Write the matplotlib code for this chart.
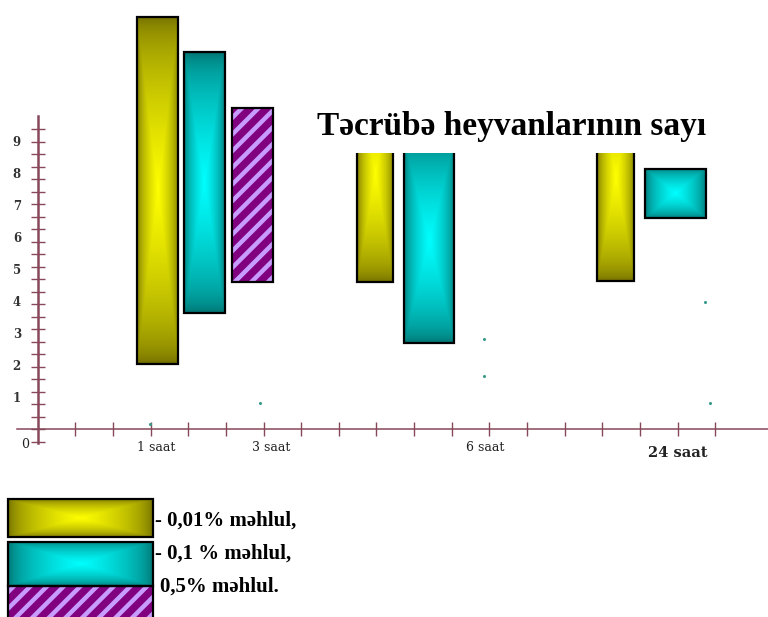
import numpy as np
import matplotlib.pyplot as plt
from matplotlib.patches import Rectangle
from matplotlib.colors import to_rgb

plt.rcParams['hatch.linewidth'] = 3.2

time_labels = ['1 saat', '3 saat', '6 saat', '24 saat']
legend_labels = ['- 0,01% məhlul,', '- 0,1 % məhlul,', '0,5% məhlul.']
title = 'Təcrübə heyvanlarının sayı'

# range of animal counts for each solution (1, 6, 24 saat for the first two, 3 saat for 0,5%)
low_001 = [2.05, 4.6, 4.65]
high_001 = [12.9, 11.3, 11.1]
low_01 = [3.65, 2.7, 6.6]
high_01 = [11.8, 9.1, 8.15]
low_05 = [4.6]
high_05 = [10.05]

# single observations
dot_x = [2.98, 5.9, 11.85, 11.85, 17.72, 17.86]
dot_y = [0.17, 0.83, 2.83, 1.67, 3.98, 0.83]

# bar placement along the time axis
left_001, width_001 = [2.64, 8.48, 14.85], [1.09, 0.96, 0.99]
left_01, width_01 = [3.89, 9.73, 16.13], [1.08, 1.33, 1.62]
left_05, width_05 = [5.16], [1.09]
label_x = [3.15, 6.2, 11.9, 17.0]

YELLOW = ('#6e6a00', '#ffff00')
TEAL = ('#006e6c', '#00ffff')
axis_col = '#86485a'


def box_gradient(ax, x0, y0, w, h, colors, transform=None, border=True, z=2):
    u = np.linspace(-1, 1, 200)
    uu, vv = np.meshgrid(u, u)
    t = (1 - np.maximum(abs(uu), abs(vv))) ** 0.55
    e, c = np.array(to_rgb(colors[0])), np.array(to_rgb(colors[1]))
    img = e + (c - e) * t[..., None]
    tr = transform if transform is not None else ax.transData
    ax.imshow(img, extent=(x0, x0 + w, y0, y0 + h), origin='lower', aspect='auto',
              interpolation='bilinear', zorder=z, transform=tr)
    if border:
        ax.add_patch(Rectangle((x0, y0), w, h, fill=False, ec='black', lw=1.6,
                               zorder=z + 0.1, transform=tr))


def hatched_box(ax, x0, y0, w, h, transform=None, z=2):
    tr = transform if transform is not None else ax.transData
    ax.add_patch(Rectangle((x0, y0), w, h, fc='#800080', ec='#c89bff', lw=0,
                           hatch='//', zorder=z, transform=tr))
    ax.add_patch(Rectangle((x0, y0), w, h, fill=False, ec='black', lw=1.6,
                           zorder=z + 0.1, transform=tr))


fig = plt.figure(figsize=(7.68, 6.17), dpi=100)
ax = fig.add_axes([0, 0, 1, 1])

for lo, hi, x, w in zip(low_001, high_001, left_001, width_001):
    box_gradient(ax, x, lo, w, hi - lo, YELLOW)
for lo, hi, x, w in zip(low_01, high_01, left_01, width_01):
    box_gradient(ax, x, lo, w, hi - lo, TEAL)
for lo, hi, x, w in zip(low_05, high_05, left_05, width_05):
    hatched_box(ax, x, lo, w, hi - lo)

ax.scatter(dot_x, dot_y, s=5, color='#3d9b8c', zorder=3, linewidths=0)

# axes drawn through the origin
for s in ['top', 'right']:
    ax.spines[s].set_visible(False)
ax.spines['left'].set_position(('data', 0))
ax.spines['bottom'].set_position(('data', 0))
ax.spines['left'].set_bounds(-0.42, 9.8)
ax.spines['bottom'].set_bounds(-0.55, 19.4)
ax.spines['left'].set_color(axis_col)
ax.spines['bottom'].set_color(axis_col)
ax.spines['left'].set_linewidth(1.8)
ax.spines['bottom'].set_linewidth(1.1)

ax.set_xticks(range(1, 19), minor=True)
ax.set_xticks([])
ax.set_yticks(np.arange(-0.39, 9.7, 0.391), minor=True)
ax.set_yticks(range(1, 10))
ax.set_yticklabels([str(k) for k in range(1, 10)], family='DejaVu Serif',
                   fontsize=8.5, fontweight='bold', color='#333333')
ax.tick_params(axis='y', which='major', length=0, pad=12)
ax.tick_params(axis='both', which='minor', direction='inout', length=10,
               width=1.0, color=axis_col)

for x, lab in zip(label_x, time_labels):
    big = lab.startswith('24')
    ax.text(x, -0.72 if big else -0.55, lab, ha='center', va='center',
            family='DejaVu Serif', fontsize=10.5 if big else 9,
            fontweight='bold' if big else 'normal', color='#222222')
ax.text(-0.33, -0.48, '0', ha='center', va='center', family='DejaVu Serif',
        fontsize=9, color='#222222')

# title panel sits on top of the tall bars
ax.add_patch(Rectangle((0.39, 0.752), 0.575, 0.3, fc='white', ec='none',
                       zorder=5, transform=ax.transAxes))
ax.text(0.413, 0.781, title, transform=ax.transAxes, ha='left', va='baseline',
        family='Liberation Serif', fontsize=24, fontweight='bold', zorder=6)

# legend swatches
box_gradient(ax, 0.0104, 0.1297, 0.1888, 0.0613, YELLOW, transform=ax.transAxes)
box_gradient(ax, 0.0104, 0.0502, 0.1888, 0.0714, TEAL, transform=ax.transAxes)
hatched_box(ax, 0.0104, -0.02, 0.1888, 0.0702, transform=ax.transAxes)
for (x, y), lab in zip([(0.202, 0.157), (0.202, 0.102), (0.208, 0.050)], legend_labels):
    ax.text(x, y, lab, transform=ax.transAxes, ha='left', va='center',
            family='Liberation Serif', fontsize=15, fontweight='bold')

ax.set_xlim(-1.0, 19.4)
ax.set_ylim(-5.86, 13.42)
fig.savefig('out.png', dpi=100)
